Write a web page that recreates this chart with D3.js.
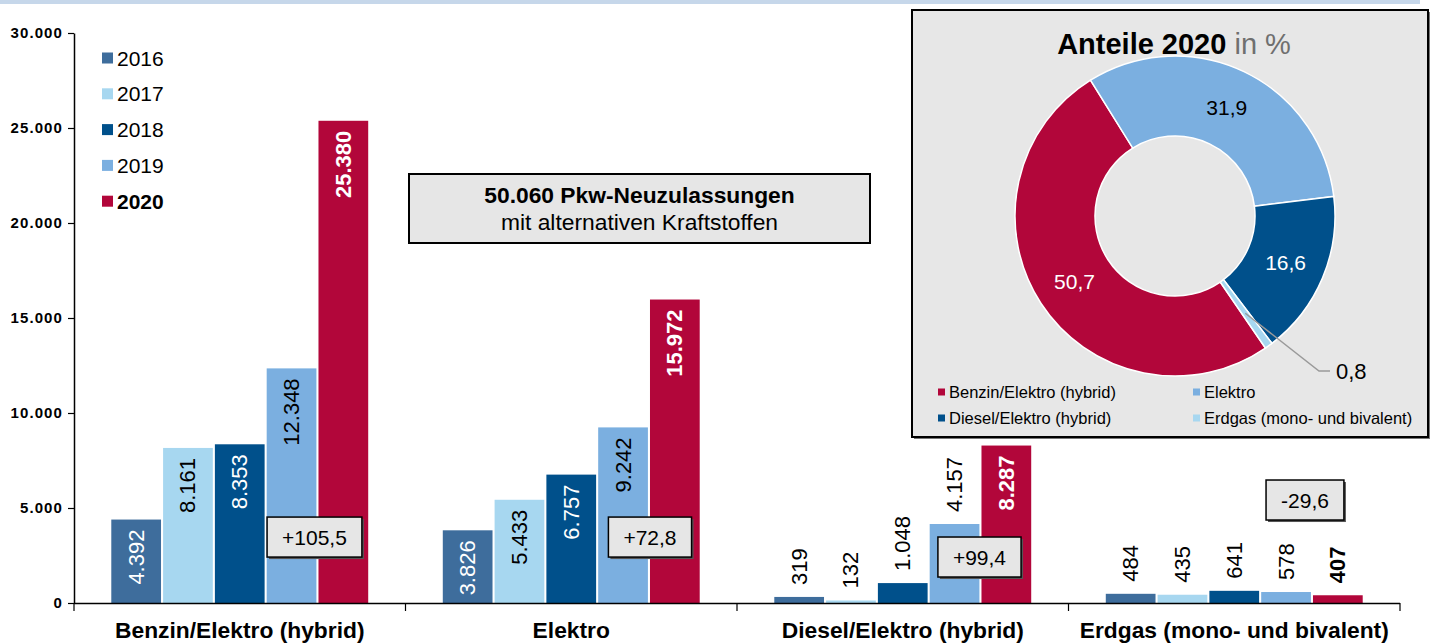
<!DOCTYPE html>
<html>
<head>
<meta charset="utf-8">
<script src="https://cdn.jsdelivr.net/npm/d3@7"></script>
<style>
  html, body { margin: 0; padding: 0; background: #fff; }
  svg { display: block; font-family: "Liberation Sans", Arial, sans-serif; }
</style>
</head>
<body>
<svg id="chart" width="1436" height="644"></svg>
<script>
// ---------------- data ----------------
const categories = ["Benzin/Elektro (hybrid)", "Elektro", "Diesel/Elektro (hybrid)", "Erdgas (mono- und bivalent)"];
const years = ["2016", "2017", "2018", "2019", "2020"];
const values2016 = [4392, 3826, 319, 484];
const values2017 = [8161, 5433, 132, 435];
const values2018 = [8353, 6757, 1048, 641];
const values2019 = [12348, 9242, 4157, 578];
const values2020 = [25380, 15972, 8287, 407];
const changeLabels = ["+105,5", "+72,8", "+99,4", "-29,6"];
const yTickValues = [0, 5000, 10000, 15000, 20000, 25000, 30000];
const shareCategories = ["Benzin/Elektro (hybrid)", "Elektro", "Diesel/Elektro (hybrid)", "Erdgas (mono- und bivalent)"];
const shareValues = [50.7, 31.9, 16.6, 0.8];
const totalTitle = "50.060 Pkw-Neuzulassungen";
const totalSubtitle = "mit alternativen Kraftstoffen";
const donutTitle = "Anteile 2020";
const donutUnit = " in %";

// ---------------- styles / layout ----------------
const yearColors = { "2016": "#3e6d9c", "2017": "#a7d7f0", "2018": "#00508b", "2019": "#7bafe0", "2020": "#b2063a" };
const insideLabelColor = { "2016": "#fff", "2017": "#000", "2018": "#fff", "2019": "#000", "2020": "#fff" };
const shareColors = ["#b2063a", "#7bafe0", "#00508b", "#a7d7f0"];
const shareLabelColors = ["#fff", "#000", "#fff", "#000"];
// label placement style overrides (the original chart sets this one label outside)
const forceOutside = new Set(["Diesel/Elektro (hybrid)|2019"]);
// annotation box anchors in data space (y value) and pixel nudges relative to the 2020 bar start
const changeBoxAnchor = [
  { yv: 3470, dx: -4 },
  { yv: 3470, dx: 0 },
  { yv: 2420, dx: -2 },
  { yv: 5420, dx: -8 }
];

const de = d3.formatLocale({ decimal: ",", thousands: ".", grouping: [3], currency: ["", "€"] });
const fmtInt = de.format(",");
const fmtPct = de.format(",.1f");

const svg = d3.select("#chart");

// top band
svg.append("rect").attr("x", 0).attr("y", 0).attr("width", 1420).attr("height", 4).attr("fill", "#c6d7ea");

// scales
const plotLeft = 74, plotRight = 1400, plotTop = 33, plotBottom = 603;
const y = d3.scaleLinear().domain([0, 30000]).range([plotBottom, plotTop]);
const x0 = d3.scaleBand().domain(categories).range([plotLeft, plotRight]).paddingInner(0.225).paddingOuter(0.1125);
const x1 = d3.scaleBand().domain(years).range([0, x0.bandwidth()]).paddingInner(0.04);

const seriesByYear = { "2016": values2016, "2017": values2017, "2018": values2018, "2019": values2019, "2020": values2020 };
const barData = [];
categories.forEach((c, i) => {
  years.forEach(yr => barData.push({ cat: c, year: yr, value: seriesByYear[yr][i] }));
});

// bars
const gBars = svg.append("g");
gBars.selectAll("rect").data(barData).enter().append("rect")
  .attr("x", d => x0(d.cat) + x1(d.year))
  .attr("y", d => y(d.value))
  .attr("width", x1.bandwidth())
  .attr("height", d => y(0) - y(d.value))
  .attr("fill", d => yearColors[d.year]);

// bar value labels
const gLabels = svg.append("g");
const padIn = 10, padOut = 12;
barData.forEach(d => {
  const cx = x0(d.cat) + x1(d.year) + x1.bandwidth() / 2;
  const top = y(d.value);
  const h = y(0) - top;
  const t = gLabels.append("text")
    .attr("font-size", 22)
    .attr("font-weight", d.year === "2020" ? "bold" : "normal")
    .attr("dominant-baseline", "central")
    .text(fmtInt(d.value));
  const len = t.node().getComputedTextLength();
  const inside = h >= len + padIn + 4 && !forceOutside.has(d.cat + "|" + d.year);
  if (inside) {
    t.attr("text-anchor", "end")
      .attr("fill", insideLabelColor[d.year])
      .attr("transform", `translate(${cx},${top + padIn}) rotate(-90)`);
  } else {
    t.attr("text-anchor", "start")
      .attr("fill", "#000")
      .attr("transform", `translate(${cx},${top - padOut}) rotate(-90)`);
  }
});

// y axis
const yAxis = d3.axisLeft(y).tickValues(yTickValues).tickSize(6).tickSizeOuter(0).tickFormat(fmtInt);
const gy = svg.append("g").attr("transform", `translate(${plotLeft},0)`).call(yAxis);
gy.select(".domain").attr("stroke", "#000").attr("stroke-width", 1.5);
gy.selectAll(".tick line").attr("stroke", "#000").attr("stroke-width", 1.2);
gy.selectAll(".tick text").attr("font-size", 15).attr("font-weight", "bold").attr("fill", "#000")
  .attr("letter-spacing", "1.1px").attr("x", -11).attr("font-family", "Liberation Sans, Arial, sans-serif");

// x axis line + separator ticks
svg.append("line").attr("x1", plotLeft).attr("x2", plotRight).attr("y1", plotBottom + 0.5).attr("y2", plotBottom + 0.5)
  .attr("stroke", "#000").attr("stroke-width", 1.5);
const boundaries = [plotLeft].concat(categories.slice(1).map(c => x0(c) - (x0.step() - x0.bandwidth()) / 2), [plotRight]);
svg.append("g").selectAll("line").data(boundaries).enter().append("line")
  .attr("x1", d => d).attr("x2", d => d).attr("y1", plotBottom).attr("y2", plotBottom + 8)
  .attr("stroke", "#000").attr("stroke-width", 1.2);

// category labels
svg.append("g").selectAll("text").data(categories).enter().append("text")
  .attr("x", d => x0(d) + x0.bandwidth() / 2)
  .attr("y", 638)
  .attr("text-anchor", "middle")
  .attr("font-size", 22.8)
  .attr("font-weight", "bold")
  .attr("fill", "#000")
  .text(d => d);

// year legend
const gLeg = svg.append("g");
years.forEach((yr, i) => {
  const cy = 58 + i * 35.8;
  gLeg.append("rect").attr("x", 102).attr("y", cy - 5.5).attr("width", 11).attr("height", 11).attr("fill", yearColors[yr]);
  gLeg.append("text").attr("x", 117).attr("y", cy).attr("dominant-baseline", "central")
    .attr("font-size", 21).attr("font-weight", yr === "2020" ? "bold" : "normal").attr("fill", "#000").text(yr);
});

// total box
const gTot = svg.append("g");
gTot.append("rect").attr("x", 409).attr("y", 174).attr("width", 461).attr("height", 69)
  .attr("fill", "#e6e6e6").attr("stroke", "#000").attr("stroke-width", 2);
gTot.append("text").attr("x", 639.5).attr("y", 203).attr("text-anchor", "middle")
  .attr("font-size", 22.8).attr("font-weight", "bold").attr("fill", "#000").text(totalTitle);
gTot.append("text").attr("x", 639.5).attr("y", 230).attr("text-anchor", "middle")
  .attr("font-size", 22.8).attr("fill", "#000").text(totalSubtitle);

// change boxes
const gChg = svg.append("g");
categories.forEach((c, i) => {
  const cx = x0(c) + x1("2020") + changeBoxAnchor[i].dx;
  const cy = y(changeBoxAnchor[i].yv);
  const t = gChg.append("text").attr("font-size", 21).attr("fill", "#000")
    .attr("text-anchor", "middle").attr("dominant-baseline", "central").text(changeLabels[i]);
  const w = t.node().getComputedTextLength() + 30;
  const h = 40;
  gChg.insert("rect", "text").attr("x", cx - w / 2 + 2).attr("y", cy - h / 2 + 2).attr("width", w).attr("height", h).attr("fill", "#555");
  gChg.insert("rect", "text").attr("x", cx - w / 2).attr("y", cy - h / 2).attr("width", w).attr("height", h)
    .attr("fill", "#e6e6e6").attr("stroke", "#000").attr("stroke-width", 1.5);
  t.attr("x", cx).attr("y", cy);
});

// donut panel
const gP = svg.append("g");
gP.append("rect").attr("x", 914).attr("y", 12).attr("width", 516).attr("height", 427).attr("fill", "#777");
gP.append("rect").attr("x", 912).attr("y", 10).attr("width", 516).attr("height", 427)
  .attr("fill", "#e7e7e7").attr("stroke", "#000").attr("stroke-width", 2);
const title = gP.append("text").attr("x", 1174).attr("y", 54).attr("text-anchor", "middle").attr("font-size", 29);
title.append("tspan").attr("font-weight", "bold").attr("fill", "#000").text(donutTitle);
title.append("tspan").attr("fill", "#6f6f6f").text(donutUnit);

const dcx = 1175, dcy = 216;
const a0 = 145.6 * Math.PI / 180;
const pie = d3.pie().sort(null).value(d => d).startAngle(a0).endAngle(a0 + 2 * Math.PI);
const arc = d3.arc().innerRadius(80).outerRadius(160);
const arcs = pie(shareValues);
const gD = gP.append("g").attr("transform", `translate(${dcx},${dcy})`);
gD.selectAll("path").data(arcs).enter().append("path")
  .attr("d", arc).attr("fill", (d, i) => shareColors[i]).attr("stroke", "#fff").attr("stroke-width", 1.5);

arcs.forEach((d, i) => {
  const [px, py] = arc.centroid(d);
  if (i < 3) {
    gD.append("text").attr("x", px).attr("y", py).attr("text-anchor", "middle").attr("dominant-baseline", "central")
      .attr("font-size", 21).attr("fill", shareLabelColors[i]).text(fmtPct(d.data));
  } else {
    const ex = 1319 - dcx, ey = 371 - dcy;
    gD.append("polyline").attr("points", `${px},${py} ${ex},${ey} ${ex + 11},${ey}`)
      .attr("fill", "none").attr("stroke", "#9a9a9a").attr("stroke-width", 1.5);
    gD.append("text").attr("x", ex + 17).attr("y", ey).attr("dominant-baseline", "central")
      .attr("font-size", 22).attr("fill", "#000").text(fmtPct(d.data));
  }
});

// donut legend
const legPos = [[938, 392], [1193, 392], [938, 418], [1193, 418]];
shareCategories.forEach((c, i) => {
  const [lx, ly] = legPos[i];
  gP.append("rect").attr("x", lx).attr("y", ly - 3.5).attr("width", 7).attr("height", 7).attr("fill", shareColors[i]);
  gP.append("text").attr("x", lx + 11).attr("y", ly).attr("dominant-baseline", "central")
    .attr("font-size", 16.5).attr("fill", "#000").text(c);
});
</script>
</body>
</html>
